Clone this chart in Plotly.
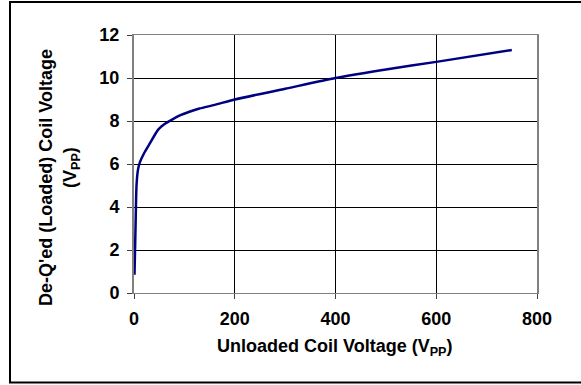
import plotly.graph_objects as go

unloaded_vpp = [1, 3, 5, 8, 12, 20, 30, 48, 60, 72, 90, 110, 130, 160, 200, 300, 400, 500, 600, 750]
loaded_vpp = [0.85, 3.0, 5.0, 5.75, 6.1, 6.5, 6.9, 7.6, 7.85, 8.02, 8.25, 8.43, 8.58, 8.75, 9.0, 9.5, 10.0, 10.4, 10.75, 11.3]

x_ticks = [0, 200, 400, 600, 800]
y_ticks = [0, 2, 4, 6, 8, 10, 12]

W, H = 581, 385
L, R, T, B = 134, 44, 35, 92
pw, ph = W - L - R, H - T - B

def px(x):
    return (x - L) / pw

def py(y):
    return (H - B - y) / ph

font = dict(family="Liberation Sans, Arial, sans-serif", size=18, color="black")
tfont = dict(family="Liberation Sans, Arial, sans-serif", size=18, color="black")

fig = go.Figure()
fig.add_trace(go.Scatter(
    x=unloaded_vpp, y=loaded_vpp, mode="lines", line_shape="spline",
    line=dict(color="#000080", width=2.5, smoothing=0.6), showlegend=False,
))

fig.update_layout(
    width=W, height=H,
    margin=dict(l=L, r=R, t=T, b=B),
    paper_bgcolor="white", plot_bgcolor="white",
    font=font,
    xaxis=dict(range=[0, 800], tickvals=x_ticks, ticktext=[f"<b>{v}</b>" for v in x_ticks],
               showgrid=True, gridcolor="black", gridwidth=1, zeroline=False,
               showline=True, linecolor="#808080", linewidth=1, mirror=True,
               ticks="outside", ticklen=5, tickcolor="#404040", tickfont=font,
               ticklabelstandoff=4),
    yaxis=dict(range=[0, 12], tickvals=y_ticks, ticktext=[f"<b>{v}</b>" for v in y_ticks],
               showgrid=True, gridcolor="black", gridwidth=1, zeroline=False,
               showline=True, linecolor="#808080", linewidth=2, mirror=True,
               ticks="outside", ticklen=5, tickcolor="#404040", tickfont=font,
               ticklabelstandoff=4),
    annotations=[
        dict(text="<b>Unloaded Coil Voltage (V<sub>PP</sub>)</b>", xref="paper", yref="paper",
             x=px(335), y=py(347), showarrow=False, font=tfont, xanchor="center", yanchor="middle"),
        dict(text="<b>De-Q'ed (Loaded) Coil Voltage</b>", xref="paper", yref="paper",
             x=px(46), y=py(178), showarrow=False, font=tfont, textangle=-90,
             xanchor="center", yanchor="middle"),
        dict(text="<b>(V<sub>PP</sub>)</b>", xref="paper", yref="paper",
             x=px(71), y=py(168), showarrow=False, font=tfont, textangle=-90,
             xanchor="center", yanchor="middle"),
    ],
    shapes=[
        dict(type="rect", xref="paper", yref="paper",
             x0=px(10), x1=px(600), y0=py(382.5), y1=py(2),
             line=dict(color="black", width=2), fillcolor="rgba(0,0,0,0)", layer="below"),
    ],
)

fig.write_html("out.html")
